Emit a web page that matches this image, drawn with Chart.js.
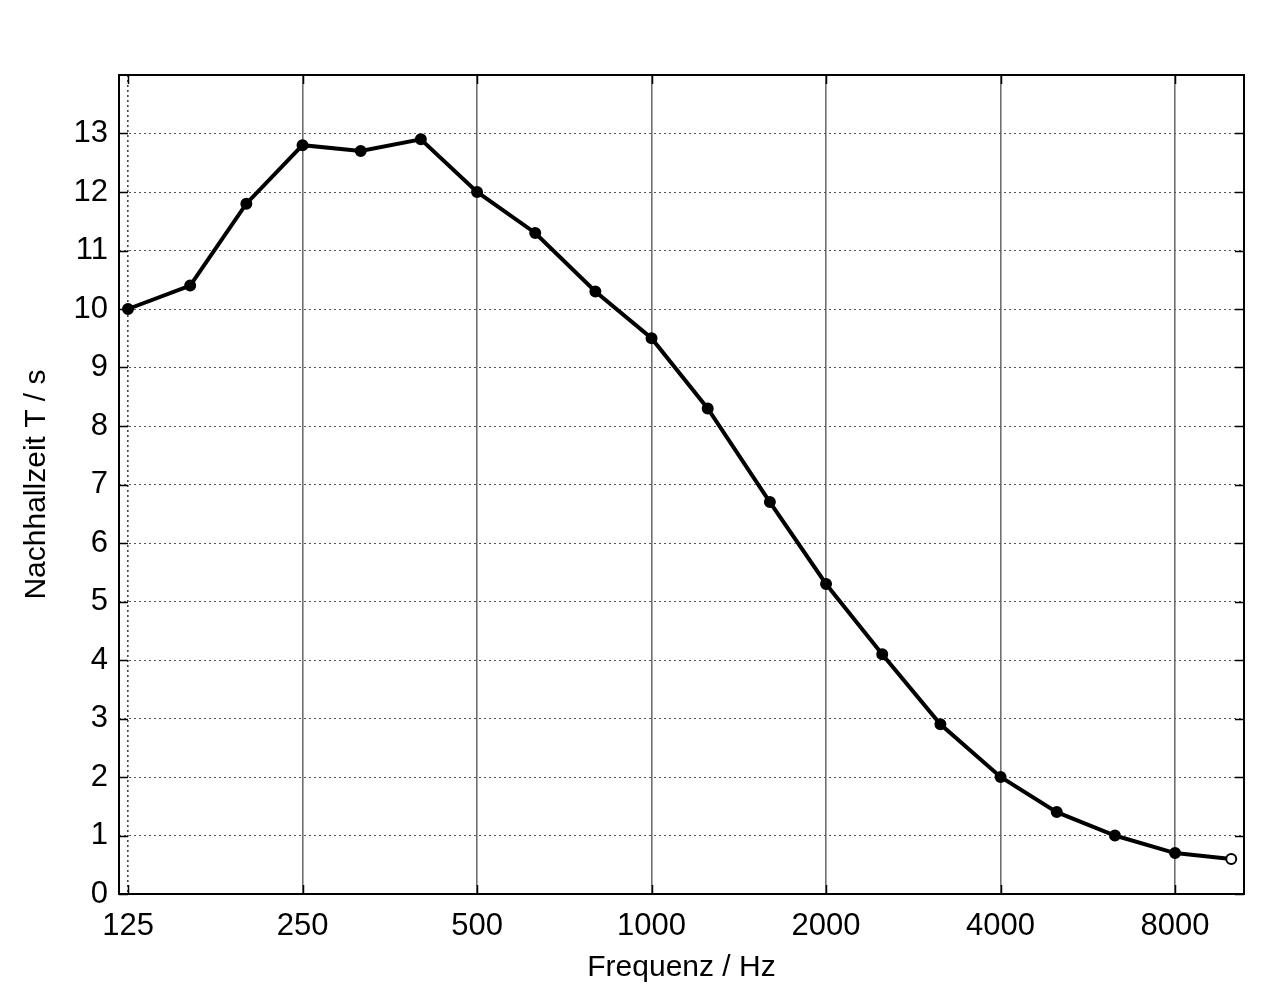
<!DOCTYPE html>
<html>
<head>
<meta charset="utf-8">
<script src="https://cdn.jsdelivr.net/npm/chart.js@4"></script>
<style>
  html, body { margin: 0; padding: 0; background: #fff; }
  #wrap { width: 1281px; height: 1004px; }
</style>
</head>
<body>
<div id="wrap"><canvas id="nachhall"></canvas></div>
<script>
// Terzband-Mittenfrequenzen (Hz) und gemessene Nachhallzeit (s)
var frequenzen = [125, 160, 200, 250, 315, 400, 500, 630, 800, 1000, 1250, 1600, 2000, 2500, 3150, 4000, 5000, 6300, 8000, 10000];
var nachhallzeit = [10.0, 10.4, 11.8, 12.8, 12.7, 12.9, 12.0, 11.3, 10.3, 9.5, 8.3, 6.7, 5.3, 4.1, 2.9, 2.0, 1.4, 1.0, 0.7, 0.6];
var xTicks = [125, 250, 500, 1000, 2000, 4000, 8000];
var yTicks = [0, 1, 2, 3, 4, 5, 6, 7, 8, 9, 10, 11, 12, 13];

var schrift = "'Liberation Sans', Arial, sans-serif";

var punkte = [];
for (var i = 0; i < frequenzen.length; i++) {
    punkte.push({ x: frequenzen[i], y: nachhallzeit[i] });
}

// Rahmen und kleine Striche nach innen, wie bei Matlab
var rahmenPlugin = {
    id: 'rahmen',
    afterDraw: function (chart) {
        var ctx = chart.ctx;
        var a = chart.chartArea;
        var xs = chart.scales.x;
        var ys = chart.scales.y;
        ctx.save();
        ctx.strokeStyle = '#000';
        ctx.lineWidth = 1.5;
        for (var i = 0; i < yTicks.length; i++) {
            var py = Math.round(ys.getPixelForValue(yTicks[i])) + 0.5;
            ctx.beginPath();
            ctx.moveTo(a.left, py); ctx.lineTo(a.left + 9, py);
            ctx.moveTo(a.right, py); ctx.lineTo(a.right - 9, py);
            ctx.stroke();
        }
        for (var j = 0; j < xTicks.length; j++) {
            var px = Math.round(xs.getPixelForValue(xTicks[j])) + 0.5;
            ctx.beginPath();
            ctx.moveTo(px, a.bottom); ctx.lineTo(px, a.bottom - 9);
            ctx.moveTo(px, a.top); ctx.lineTo(px, a.top + 9);
            ctx.stroke();
        }
        ctx.lineWidth = 2;
        ctx.strokeRect(a.left, a.top, a.right - a.left, a.bottom - a.top);
        ctx.restore();
    }
};

var ctx = document.getElementById('nachhall').getContext('2d');
var chart = new Chart(ctx, {
    type: 'line',
    data: {
        datasets: [{
            data: punkte,
            borderColor: '#000',
            borderWidth: 4,
            pointRadius: 5,
            pointBorderWidth: 2,
            pointBorderColor: '#000',
            pointBackgroundColor: function (c) {
                return c.dataIndex === frequenzen.length - 1 ? '#fff' : '#000';
            },
            tension: 0,
            clip: false
        }]
    },
    options: {
        responsive: true,
        maintainAspectRatio: false,
        animation: false,
        devicePixelRatio: 1,
        layout: { padding: { top: 75, right: 37, left: 0, bottom: 0 } },
        plugins: {
            legend: { display: false },
            tooltip: { enabled: false }
        },
        scales: {
            x: {
                type: 'logarithmic',
                min: 120.6,
                max: 10520,
                afterBuildTicks: function (scale) {
                    scale.ticks = xTicks.map(function (v) { return { value: v }; });
                },
                afterFit: function (scale) { scale.height = 110; },
                ticks: {
                    autoSkip: false,
                    maxRotation: 0,
                    padding: 14,
                    color: '#000',
                    font: { family: schrift, size: 31 },
                    callback: function (v) { return String(v); }
                },
                grid: {
                    drawTicks: false,
                    color: function (c) {
                        return c.tick && c.tick.value === 125 ? '#444' : '#707070';
                    },
                    lineWidth: 1.6
                },
                border: {
                    display: false,
                    dash: function (c) {
                        return c.tick && c.tick.value === 125 ? [2, 3] : [];
                    }
                },
                title: {
                    display: true,
                    text: 'Frequenz / Hz',
                    color: '#000',
                    font: { family: schrift, size: 30 },
                    padding: { top: 0, bottom: 18 }
                }
            },
            y: {
                min: 0,
                max: 14,
                afterBuildTicks: function (scale) {
                    scale.ticks = yTicks.map(function (v) { return { value: v }; });
                },
                afterFit: function (scale) { scale.width = 119; },
                ticks: {
                    padding: 11,
                    color: '#000',
                    font: { family: schrift, size: 31 },
                    callback: function (v) { return String(v); }
                },
                grid: {
                    drawTicks: false,
                    color: '#555',
                    lineWidth: 1
                },
                border: { display: false, dash: [2, 3] },
                title: {
                    display: true,
                    text: 'Nachhallzeit T / s',
                    color: '#000',
                    font: { family: schrift, size: 30 },
                    padding: { top: 19, bottom: 0 }
                }
            }
        }
    },
    plugins: [rahmenPlugin]
});
</script>
</body>
</html>
